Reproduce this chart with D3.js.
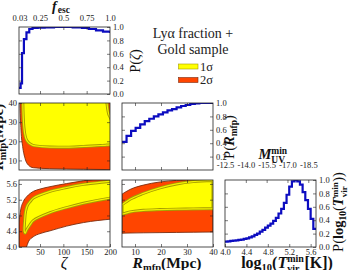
<!DOCTYPE html>
<html><head><meta charset="utf-8">
<script src="https://cdn.jsdelivr.net/npm/d3@7"></script>
<style>body{margin:0;background:#fff}svg{display:block}</style>
</head><body>
<script>
// ---------------- DATA ----------------
// P(zeta) step curve (top-left)
const zetaStepX = [5, 8.5, 11.5, 15.5, 21, 27, 34, 45, 60, 80, 100, 120, 140, 155, 170, 185, 200];
const zetaStepP = [0.09, 0.16, 0.61, 0.82, 0.92, 0.97, 0.985, 0.99, 0.995, 1.0, 1.0, 0.995, 0.985, 0.97, 0.95, 0.93, 0.91];
const fescTicks = [0.03, 0.25, 0.5, 0.75, 1.0];

// P(R_mfp) step curve (middle)
const rmfpEdges = [5, 6.75, 8.5, 10.25, 12, 13.75, 15.5, 17.25, 19, 20.75, 22.5, 24.25, 26, 27.75, 29.5, 31.25, 33, 34.75, 36.5, 38.25, 40];
const rmfpP = [0.42, 0.51, 0.585, 0.63, 0.68, 0.73, 0.765, 0.80, 0.83, 0.86, 0.89, 0.91, 0.935, 0.955, 0.97, 0.985, 0.995, 1.0, 1.0, 1.0, 1.0];

// P(log10 Tvir) histogram (bottom-right)
const tvirEdges = [4.0,4.05,4.1,4.15,4.2,4.25,4.3,4.35,4.4,4.45,4.5,4.55,4.6,4.65,4.7,4.75,4.8,4.85,4.9,4.95,5.0,5.05,5.1,5.15,5.2,5.25,5.3,5.35,5.4,5.45,5.5,5.55,5.6,5.65,5.7];
const tvirP = [0.08,0.085,0.09,0.095,0.10,0.105,0.11,0.12,0.13,0.145,0.16,0.18,0.20,0.23,0.255,0.29,0.32,0.35,0.39,0.435,0.5,0.57,0.66,0.78,0.9,0.98,1.0,0.98,0.93,0.82,0.7,0.57,0.42,0.27,0.27];
const muvTicks = [-12.5, -14.0, -15.5, -17.0, -18.5];

// zeta vs R_mfp contours (middle-left)
const zrS2Zeta = [6.5, 7.1, 9.3, 12.9, 17.9, 25, 35.6, 71, 143, 205];
const zrS2R    = [48, 40, 25.9, 17.2, 11.1, 7.6, 6.2, 5.7, 5.4, 5.2];
const zrS1Zeta = [13, 13.2, 14.2, 15.6, 18.5, 23, 30, 40, 71, 107, 143, 180, 190, 193, 195, 197, 200, 205];
const zrS1Low  = [45, 40, 32, 27, 22.5, 20, 18.5, 17.6, 17.0, 16.9, 17.3, 17.8, 17.9, 18.0, 18.0, 18.05, 18.1, 18.2];
const zrS1High = [45, 45, 45, 45, 45, 45, 45, 45, 45, 45, 45, 45, 45, 41, 37, 34.5, 32.8, 30];

// zeta vs log10 Tvir contours (bottom-left)
const ztS2Zeta  = [5, 8.6, 14.2, 21, 25, 35.6, 50, 71.4, 107, 143, 205];
const ztS2Upper = [4.60, 4.94, 5.15, 5.27, 5.32, 5.41, 5.47, 5.53, 5.61, 5.68, 5.77];
const ztS2Lower = [3.8, 3.8, 3.85, 4.0, 4.13, 4.26, 4.34, 4.41, 4.53, 4.62, 4.71];
const ztS1Upper = [[16.2,4.40],[17.0,4.65],[19.0,4.90],[23,5.06],[28.6,5.15],[35.6,5.24],[71.4,5.41],[107,5.51],[143,5.59],[200,5.67],[212,5.69]];
const ztS1Lower = [[212,5.26],[200,5.24],[143,5.11],[107,5.0],[71.4,4.87],[35.6,4.67],[28.6,4.56],[21.5,4.43],[18.0,4.35]];

// R_mfp vs log10 Tvir contours (bottom-middle)
const rtR       = [5, 8.1, 13.2, 19.6, 26, 32.4, 40];
const rtS2Upper = [5.34, 5.46, 5.57, 5.65, 5.69, 5.72, 5.75];
const rtS2Lower = [4.35, 4.355, 4.36, 4.365, 4.37, 4.375, 4.38];
const rtS1Upper = [5.07, 5.21, 5.36, 5.50, 5.60, 5.66, 5.69];
const rtS1Lower = [4.83, 4.89, 4.93, 4.95, 4.96, 4.965, 4.97];

// ---------------- LAYOUT ----------------
const cols = [19, 122, 225], rows = [27, 103, 180], PW = 91, PH = 67;
const FONT = "'Liberation Serif','DejaVu Serif',serif";
const YEL = "#ffff00", ORG = "#ff4500", S2LINE = "#7a2c10", S1LINE = "#a59c00", BLUE = "#0c0cc0";

const svg = d3.select("body").append("svg").attr("width", 350).attr("height", 270);

function makePanel(id, ci, ri, xd, yd) {
  const x0 = cols[ci], y0 = rows[ri];
  const x = d3.scaleLinear().domain(xd).range([x0, x0 + PW]);
  const y = d3.scaleLinear().domain(yd).range([y0 + PH, y0]);
  svg.append("clipPath").attr("id", id).append("rect")
    .attr("x", x0).attr("y", y0).attr("width", PW).attr("height", PH);
  const g = svg.append("g").attr("clip-path", `url(#${id})`);
  return { x, y, g, x0, y0 };
}
function frame(p) {
  svg.append("rect").attr("x", p.x0).attr("y", p.y0).attr("width", PW).attr("height", PH)
    .attr("fill", "none").attr("stroke", "#222").attr("stroke-width", 0.8);
}
function axis(p, orient, vals, fmt, scale) {
  let ax;
  if (orient === "bottom") ax = d3.axisBottom(scale || p.x);
  if (orient === "top") ax = d3.axisTop(scale || p.x);
  if (orient === "left") ax = d3.axisLeft(scale || p.y);
  if (orient === "right") ax = d3.axisRight(scale || p.y);
  ax.tickValues(vals).tickSize(-3).tickPadding(orient === "left" ? 2 : orient === "bottom" ? 2 : 3).tickFormat(fmt || (() => ""));
  const tr = orient === "bottom" ? `translate(0,${p.y0 + PH})` : orient === "top" ? `translate(0,${p.y0})`
    : orient === "left" ? `translate(${p.x0},0)` : `translate(${p.x0 + PW},0)`;
  const g = svg.append("g").attr("transform", tr).call(ax);
  g.select(".domain").remove();
  g.selectAll("line").attr("stroke", "#222").attr("stroke-width", 0.6);
  g.selectAll("text").attr("font-family", FONT).attr("font-size", 8.5).attr("fill", "#222");
  return g;
}
const f1 = d => d.toFixed(1);
const f0 = d => String(d);

// rich text helper: pieces [{t, size, weight, style, dy, stack:[sup,sub]}]
function rich(cx, cy, pieces, rot) {
  const g = svg.append("g");
  let x = 0;
  pieces.forEach(pc => {
    if (pc.stack) {
      let w = 0;
      pc.stack.forEach(s => {
        const t = g.append("text").attr("x", x).attr("y", s.dy || 0).text(s.t)
          .attr("font-family", FONT).attr("font-size", s.size).attr("font-weight", s.weight || "normal")
          .attr("font-style", s.style || "normal").attr("fill", "#111");
        w = Math.max(w, t.node().getComputedTextLength());
      });
      x += w + 0.5;
    } else {
      const t = g.append("text").attr("x", x).attr("y", pc.dy || 0).text(pc.t)
        .attr("font-family", FONT).attr("font-size", pc.size).attr("font-weight", pc.weight || "normal")
        .attr("font-style", pc.style || "normal").attr("fill", "#111");
      x += t.node().getComputedTextLength() + (pc.pad || 0);
    }
  });
  g.attr("transform", `translate(${cx},${cy}) rotate(${rot || 0}) translate(${-x / 2},0)`);
}

// ---------------- PANEL 1: P(zeta) ----------------
const p1 = makePanel("c1", 0, 0, [5, 200], [0, 1]);
p1.g.append("path")
  .attr("d", d3.line().curve(d3.curveStepAfter).x(d => p1.x(d)).y((d, i) => p1.y(zetaStepP[i]))(zetaStepX))
  .attr("fill", "none").attr("stroke", BLUE).attr("stroke-width", 2.2);
frame(p1);
axis(p1, "bottom", [50, 100, 150]);
axis(p1, "left", [0.2, 0.4, 0.6, 0.8]);
axis(p1, "right", [0, 0.2, 0.4, 0.6, 0.8, 1.0], f1);
const fescScale = d3.scaleLinear().domain([0.025, 1.0]).range([cols[0], cols[0] + PW]);
const topAx = axis(p1, "top", fescTicks, d => d === 1 ? "1.0" : String(d), fescScale);
topAx.selectAll(".tick text").attr("dy", "0em").attr("y", -6);
topAx.selectAll(".tick").filter(d => d === 0.03 || d === 1.0).select("line").remove();

// ---------------- PANEL 2: zeta vs R_mfp ----------------
const p2 = makePanel("c2", 0, 1, [5, 200], [5, 40]);
p2.g.append("path")
  .attr("d", d3.area().curve(d3.curveMonotoneX).x(d => p2.x(d)).y0((d, i) => p2.y(zrS2R[i])).y1(() => p2.y(50))(zrS2Zeta))
  .attr("fill", ORG).attr("stroke", S2LINE).attr("stroke-width", 0.9);
const a2 = d3.area().curve(d3.curveMonotoneX).x(d => p2.x(d)).y0((d, i) => p2.y(zrS1Low[i])).y1((d, i) => p2.y(zrS1High[i]));
p2.g.append("path").attr("d", a2(zrS1Zeta)).attr("fill", YEL).attr("stroke", S1LINE).attr("stroke-width", 3);
p2.g.append("path").attr("d", a2(zrS1Zeta)).attr("fill", "none").attr("stroke", "#f4f000").attr("stroke-width", 1.2);
frame(p2);
axis(p2, "bottom", [50, 100, 150]);
axis(p2, "top", [50, 100, 150]);
axis(p2, "left", [10, 20, 30, 40], f0);
axis(p2, "right", [10, 20, 30]);

// ---------------- PANEL 3: P(R_mfp) ----------------
const p3 = makePanel("c3", 1, 1, [5, 40], [0, 1]);
p3.g.append("path")
  .attr("d", d3.line().curve(d3.curveStepAfter).x(d => p3.x(d)).y((d, i) => p3.y(rmfpP[i]))(rmfpEdges))
  .attr("fill", "none").attr("stroke", BLUE).attr("stroke-width", 2.2);
frame(p3);
axis(p3, "bottom", [10, 20, 30]);
axis(p3, "top", [10, 20, 30]);
axis(p3, "left", [0.2, 0.4, 0.6, 0.8]);
axis(p3, "right", [0.2, 0.4, 0.6, 0.8, 1.0], f1);

// ---------------- PANEL 4: zeta vs log10 Tvir ----------------
const p4 = makePanel("c4", 0, 2, [5, 200], [4.0, 5.7]);
p4.g.append("path")
  .attr("d", d3.area().curve(d3.curveMonotoneX).x(d => p4.x(d)).y0((d, i) => p4.y(ztS2Lower[i])).y1((d, i) => p4.y(ztS2Upper[i]))(ztS2Zeta))
  .attr("fill", ORG).attr("stroke", S2LINE).attr("stroke-width", 0.9);
const band4 = d3.line().curve(d3.curveCatmullRomClosed).x(d => p4.x(d[0])).y(d => p4.y(d[1]))(ztS1Upper.concat(ztS1Lower));
p4.g.append("path").attr("d", band4).attr("fill", YEL).attr("stroke", S1LINE).attr("stroke-width", 3);
p4.g.append("path").attr("d", band4).attr("fill", "none").attr("stroke", "#f4f000").attr("stroke-width", 1.2);
frame(p4);
axis(p4, "bottom", [50, 100, 150, 200], f0);
axis(p4, "top", [50, 100, 150]);
axis(p4, "left", [4.0, 4.4, 4.8, 5.2, 5.6], f1);
axis(p4, "right", [4.4, 4.8, 5.2, 5.6]);

// ---------------- PANEL 5: R_mfp vs log10 Tvir ----------------
const p5 = makePanel("c5", 1, 2, [5, 40], [4.0, 5.7]);
p5.g.append("path")
  .attr("d", d3.area().curve(d3.curveMonotoneX).x(d => p5.x(d)).y0((d, i) => p5.y(rtS2Lower[i])).y1((d, i) => p5.y(rtS2Upper[i]))(rtR))
  .attr("fill", ORG).attr("stroke", S2LINE).attr("stroke-width", 0.9);
const a5 = d3.area().curve(d3.curveMonotoneX).x(d => p5.x(d)).y0((d, i) => p5.y(rtS1Lower[i])).y1((d, i) => p5.y(rtS1Upper[i]));
p5.g.append("path").attr("d", a5(rtR)).attr("fill", YEL).attr("stroke", S1LINE).attr("stroke-width", 3);
p5.g.append("path").attr("d", a5(rtR)).attr("fill", "none").attr("stroke", "#f4f000").attr("stroke-width", 1.2);
frame(p5);
axis(p5, "bottom", [10, 20, 30, 40], f0);
axis(p5, "top", [10, 20, 30]);
axis(p5, "left", [4.4, 4.8, 5.2, 5.6]);
axis(p5, "right", [4.4, 4.8, 5.2, 5.6]);

// ---------------- PANEL 6: P(log10 Tvir) ----------------
const p6 = makePanel("c6", 2, 2, [4.0, 5.7], [0, 1]);
p6.g.append("path")
  .attr("d", d3.line().curve(d3.curveStepAfter).x(d => p6.x(d)).y((d, i) => p6.y(tvirP[i]))(tvirEdges))
  .attr("fill", "none").attr("stroke", BLUE).attr("stroke-width", 2.2);
frame(p6);
axis(p6, "bottom", [4.0, 4.4, 4.8, 5.2, 5.6], f1);
axis(p6, "left", [0.2, 0.4, 0.6, 0.8]);
axis(p6, "right", [0, 0.2, 0.4, 0.6, 0.8, 1.0], f1);
const muvScale = d3.scaleLinear().domain([-12.5, -18.5]).range([p6.x(4.0), p6.x(5.556)]);
const muvAx = axis(p6, "top", muvTicks, d => d.toFixed(1), muvScale);
muvAx.selectAll(".tick text").attr("dy", "0em").attr("y", -12);
muvAx.selectAll(".tick").filter(d => d === -12.5).select("line").remove();

// ---------------- LABELS ----------------
rich(61, 10.5, [{ t: "f", size: 14, weight: "bold", style: "italic", pad: 1 }, { t: "esc", size: 9.5, weight: "bold", dy: 2 }]);
rich(140, 61, [{ t: "P(", size: 14.5 }, { t: "ζ", size: 14.5, style: "italic" }, { t: ")", size: 14.5 }], -90);
rich(234, 137, [{ t: "P(", size: 14.5 }, { t: "R", size: 14.5, weight: "bold", style: "italic" }, { t: "mfp", size: 9.5, weight: "bold", dy: 3 }, { t: ")", size: 14.5 }], -90);
rich(3, 137, [{ t: "R", size: 15, weight: "bold", style: "italic" }, { t: "mfp", size: 10, weight: "bold", dy: 3 }, { t: "(Mpc)", size: 15, weight: "bold" }], -90);
rich(343, 212, [{ t: "P(", size: 14.5 }, { t: "log", size: 14.5, weight: "bold" }, { t: "10", size: 9.5, weight: "bold", dy: 3 }, { t: "(", size: 14.5 },
  { t: "T", size: 14.5, weight: "bold", style: "italic" }, { stack: [{ t: "min", size: 9, weight: "bold", dy: -5.5 }, { t: "vir", size: 9, weight: "bold", dy: 4 }] }, { t: "))", size: 14.5 }], -90);
rich(64, 268, [{ t: "ζ", size: 16, style: "italic" }]);
rich(167, 268, [{ t: "R", size: 15.5, weight: "bold", style: "italic" }, { t: "mfp", size: 10.5, weight: "bold", dy: 3 }, { t: "(Mpc)", size: 15.5, weight: "bold" }]);
rich(287, 268, [{ t: "log", size: 16, weight: "bold" }, { t: "10", size: 10.5, weight: "bold", dy: 3 }, { t: "(", size: 16, weight: "bold" },
  { t: "T", size: 16, weight: "bold", style: "italic" }, { stack: [{ t: "min", size: 10, weight: "bold", dy: -6 }, { t: "vir", size: 10, weight: "bold", dy: 3.5 }] }, { t: "[K])", size: 16, weight: "bold" }]);
rich(273, 159, [{ t: "M", size: 14.5, weight: "bold", style: "italic" }, { stack: [{ t: "min", size: 9.5, weight: "bold", dy: -5.5 }, { t: "UV", size: 9.5, weight: "bold", dy: 4 }] }]);

// Legend
svg.append("text").attr("x", 193).attr("y", 37.5).attr("text-anchor", "middle").attr("font-family", FONT).attr("font-size", 14).attr("fill", "#222").text("Lyα fraction +");
svg.append("text").attr("x", 193).attr("y", 53.5).attr("text-anchor", "middle").attr("font-family", FONT).attr("font-size", 14).attr("fill", "#222").text("Gold sample");
const legItems = [{ c: YEL, s: S1LINE, t: "1σ", y: 64 }, { c: ORG, s: S2LINE, t: "2σ", y: 77.5 }];
legItems.forEach(d => {
  svg.append("rect").attr("x", 178.5).attr("y", d.y).attr("width", 19.5).attr("height", 5).attr("fill", d.c).attr("stroke", d.s).attr("stroke-width", 0.6);
  svg.append("text").attr("x", 200).attr("y", d.y + 6.5).attr("font-family", FONT).attr("font-size", 12.5).attr("fill", "#222").text(d.t);
});
</script>
</body></html>
